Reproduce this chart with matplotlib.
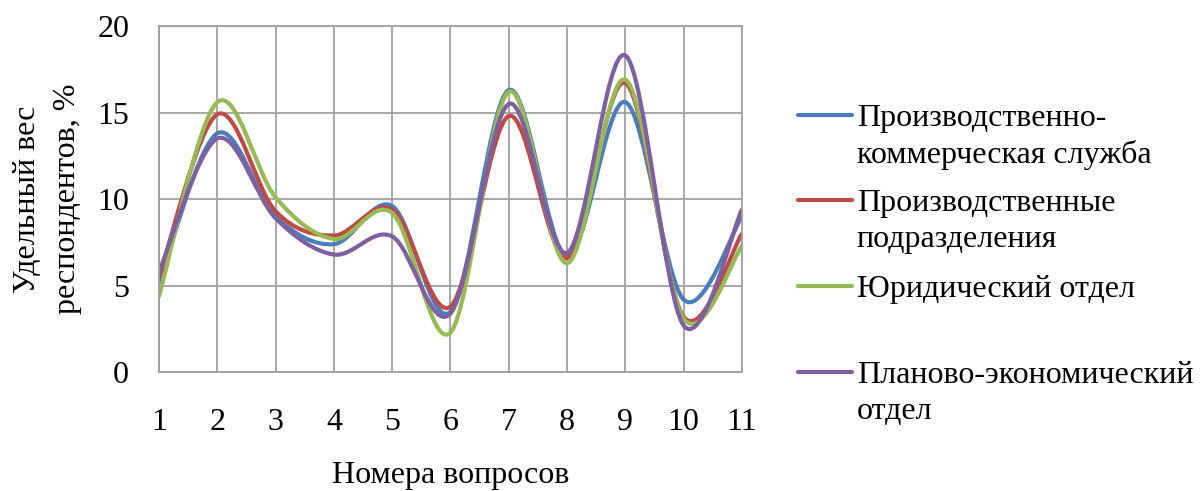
import numpy as np
import matplotlib
matplotlib.use("Agg")
import matplotlib.pyplot as plt
from matplotlib.path import Path
from matplotlib.patches import PathPatch
from matplotlib.lines import Line2D

plt.rcParams['font.family'] = ['Liberation Serif', 'DejaVu Serif']

questions = [1, 2, 3, 4, 5, 6, 7, 8, 9, 10, 11]
commercial = [5.2, 13.8, 9.0, 7.4, 9.6, 3.5, 16.3, 6.7, 15.6, 4.2, 9.0]
production = [5.5, 14.9, 9.3, 7.9, 9.4, 3.8, 14.8, 6.6, 16.7, 3.2, 8.0]
legal = [4.4, 15.6, 10.1, 7.7, 9.2, 2.3, 16.2, 6.3, 16.9, 3.1, 7.3]
planning = [5.8, 13.5, 8.9, 6.8, 7.85, 3.4, 15.5, 6.9, 18.3, 2.7, 9.4]

labels = ["Производственно-\nкоммерческая служба",
          "Производственные\nподразделения",
          "Юридический отдел",
          "Планово-экономический\nотдел"]
colors = ["#4A7EBB", "#BE4B48", "#98B954", "#7D60A0"]
series = [commercial, production, legal, planning]

FS = 23


def smooth_path(xs, ys):
    # excel-like smoothed line: catmull-rom through the points as cubic beziers
    pts = np.column_stack([xs, ys]).astype(float)
    n = len(pts)
    verts = [pts[0]]
    codes = [Path.MOVETO]
    for i in range(n - 1):
        p0 = pts[max(i - 1, 0)]
        p1 = pts[i]
        p2 = pts[i + 1]
        p3 = pts[min(i + 2, n - 1)]
        verts += [p1 + (p2 - p0) / 6, p2 - (p3 - p1) / 6, p2]
        codes += [Path.CURVE4] * 3
    return Path(verts, codes)


fig = plt.figure(figsize=(12, 4.91), dpi=100)
ax = fig.add_axes([0.1325, 0.2418, 0.4858, 0.7052])

for ys, c in zip(series, colors):
    ax.add_patch(PathPatch(smooth_path(questions, ys), facecolor='none',
                           edgecolor=c, lw=3, capstyle='round', joinstyle='round'))

ax.set_xlim(1, 11)
ax.set_ylim(0, 20)
ax.set_xticks(questions)
ax.set_yticks([0, 5, 10, 15, 20])
ax.grid(True, color='#A0A0A0', lw=1.3)
ax.set_axisbelow(True)
for s in ax.spines.values():
    s.set_color('#A0A0A0')
    s.set_linewidth(1.3)
ax.tick_params(length=0, labelsize=FS)
ax.tick_params(axis='x', pad=26)
ax.tick_params(axis='y', pad=21.5)
ax.set_xlabel("Номера вопросов", fontsize=FS, labelpad=17)
ax.set_ylabel("Удельный вес\nреспондентов, %", fontsize=FS, labelpad=11, linespacing=1.5)

# legend drawn by hand so the marker sits on the first text line
tops = [115, 200, 286, 372]
for lab, c, yp in zip(labels, colors, tops):
    y = 1 - yp / 491
    fig.add_artist(Line2D([0.665, 0.71], [y, y], color=c, lw=3,
                          solid_capstyle='round', transform=fig.transFigure))
    fig.text(0.714, 1 - (yp - 11) / 491, lab, fontsize=FS, va='top',
             ha='left', linespacing=1.3)

fig.savefig("out.png", dpi=100)
